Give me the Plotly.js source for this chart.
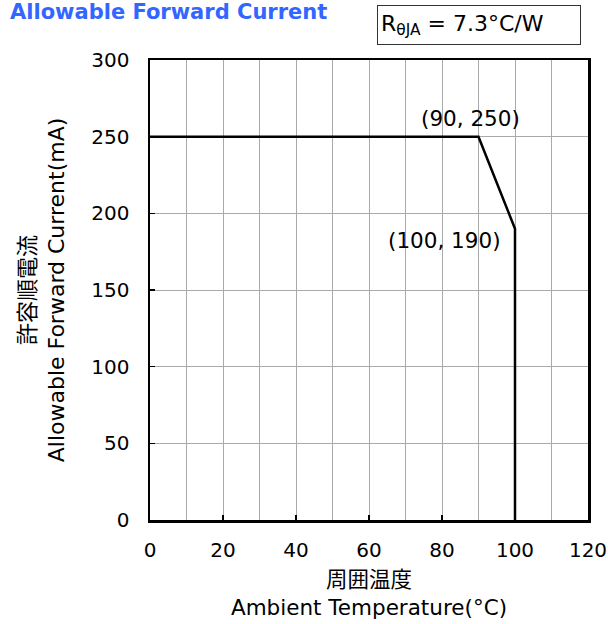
<!DOCTYPE html>
<html>
<head>
<meta charset="utf-8">
<script src="https://cdn.plot.ly/plotly-3.0.1.min.js"></script>
<style>html,body{margin:0;padding:0;background:#fff;}#chart{width:608px;height:624px;}</style>
</head>
<body>
<div id="chart"></div>
<script>
var temperature = [0, 90, 100, 100];
var currentMA = [250, 250, 190, 0];
var pointLabels = ['(90, 250)', '(100, 190)'];
var pointX = [90, 100];
var pointY = [250, 190];
var titleText = 'Allowable Forward Current';
var rthText = 'R<sub>θJA</sub> = 7.3°C/W';
var xTitle = '周囲温度<br>Ambient Temperature(°C)';
var yTitle = '許容順電流<br>Allowable Forward Current(mA)';

var FONT = 'DejaVu Sans, Noto Sans CJK JP, sans-serif';

var trace = {
  x: temperature, y: currentMA, type: 'scatter', mode: 'lines',
  line: {color: '#000', width: 2.5}, hoverinfo: 'skip', showlegend: false
};

var layout = {
  width: 608, height: 624,
  margin: {l: 150, r: 20, t: 60, b: 104},
  paper_bgcolor: '#fff', plot_bgcolor: '#fff',
  font: {family: FONT, color: '#000', size: 20},
  title: {text: '<b>' + titleText + '</b>', font: {family: FONT, size: 21, color: '#3366ff'},
          x: 10 / 608, xanchor: 'left', xref: 'container', y: 0.993, yanchor: 'top'},
  xaxis: {
    range: [0, 120], tickvals: [0, 20, 40, 60, 80, 100, 120],
    ticks: 'inside', ticklen: 5, tickwidth: 1.5, tickcolor: '#000',
    showgrid: true, gridcolor: '#aaaaaa', gridwidth: 1,
    minor: {dtick: 10, showgrid: true, gridcolor: '#aaaaaa', gridwidth: 1},
    showline: true, linecolor: '#000', linewidth: 2.5, mirror: true,
    zeroline: false, ticklabelstandoff: 10,
    tickfont: {size: 20},
    title: {text: xTitle, font: {size: 21.5}, standoff: 12}
  },
  yaxis: {
    range: [0, 300], tickvals: [0, 50, 100, 150, 200, 250, 300],
    ticks: 'inside', ticklen: 5, tickwidth: 1.5, tickcolor: '#000',
    showgrid: true, gridcolor: '#aaaaaa', gridwidth: 1,
    showline: true, linecolor: '#000', linewidth: 2.5, mirror: true,
    zeroline: false, ticklabelstandoff: 14,
    tickfont: {size: 20},
    title: {text: yTitle, font: {size: 22}, standoff: 21}
  },
  annotations: [
    {x: pointX[0], y: pointY[0], xref: 'x', yref: 'y', text: pointLabels[0], showarrow: false,
     xanchor: 'center', yanchor: 'bottom', xshift: -8, yshift: 4, font: {size: 21.5}},
    {x: pointX[1], y: pointY[1], xref: 'x', yref: 'y', text: pointLabels[1], showarrow: false,
     xanchor: 'right', yanchor: 'middle', xshift: -12, yshift: -12, font: {size: 21.5}},
    {x: 0.751, y: 1.076, xref: 'paper', yref: 'paper', text: rthText, showarrow: false,
     xanchor: 'center', yanchor: 'middle', width: 196, height: 32, align: 'left',
     bordercolor: '#333', borderwidth: 1, borderpad: 3, bgcolor: '#fff', font: {size: 22}}
  ]
};

Plotly.newPlot('chart', [trace], layout, {displayModeBar: false, staticPlot: true});
</script>
</body>
</html>
